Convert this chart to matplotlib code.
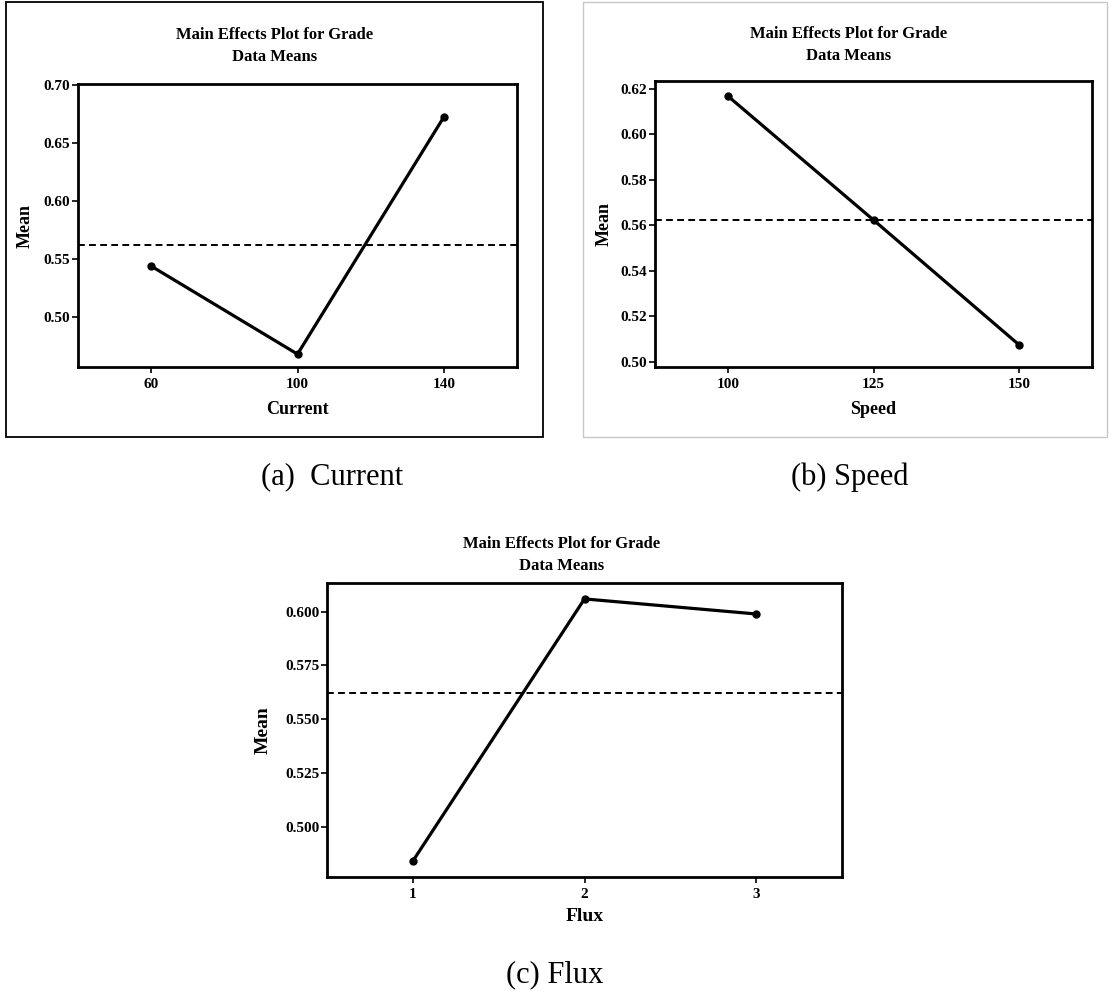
import matplotlib
matplotlib.use("Agg")
import matplotlib.pyplot as plt
from matplotlib.patches import Rectangle
from matplotlib.ticker import FormatStrFormatter

W, H = 1109, 991
plt.rcParams['font.family'] = ['Liberation Serif', 'DejaVu Serif']

# ---- data ----
current_levels = [60, 100, 140]
current_means = [0.5437, 0.4677, 0.6724]
speed_levels = [100, 125, 150]
speed_means = [0.6169, 0.5624, 0.5075]
flux_levels = [1, 2, 3]
flux_means = [0.4840, 0.6059, 0.5989]
grand_mean = 0.5623

title_lines = ["Main Effects Plot for Grade", "Data Means"]
captions = ["(a)  Current", "(b) Speed", "(c) Flux"]

fig = plt.figure(figsize=(W / 100, H / 100), dpi=100)


def rect(l, t, r, b):
    return [l / W, 1 - b / H, (r - l) / W, (b - t) / H]


def fx(x):
    return x / W


def fy(y):
    return 1 - y / H


# outer panel frames
fig.add_artist(Rectangle((fx(6), fy(437)), (543 - 6) / W, (437 - 2) / H,
                         transform=fig.transFigure, fill=False,
                         edgecolor='black', linewidth=1.3))
fig.add_artist(Rectangle((fx(583), fy(437)), (1107 - 583) / W, (437 - 2) / H,
                         transform=fig.transFigure, fill=False,
                         edgecolor='#c8c8c8', linewidth=1.0))


def panel(box, levels, means, xlim, ylim, yticks, fmt, xlabel, title_x,
          title_y, ylabel_right, xlabel_top, tick_fs=11, lab_fs=13):
    ax = fig.add_axes(rect(*box))
    ax.plot(levels, means, color='black', linewidth=2.3, marker='o',
            markersize=5, zorder=3)
    ax.axhline(grand_mean, color='black', linestyle=(0, (3.5, 2.2)),
               linewidth=1.4, zorder=2)
    ax.set_xlim(*xlim)
    ax.set_ylim(*ylim)
    ax.set_xticks(levels)
    ax.set_xticklabels([str(v) for v in levels])
    ax.set_yticks(yticks)
    ax.yaxis.set_major_formatter(FormatStrFormatter(fmt))
    for s in ax.spines.values():
        s.set_linewidth(2.0)
    ax.tick_params(direction='out', length=4, width=1.2, labelsize=tick_fs)
    ax.tick_params(axis='y', pad=1.5)
    ax.tick_params(axis='x', pad=4)
    for lbl in ax.get_xticklabels() + ax.get_yticklabels():
        lbl.set_fontweight('bold')
    ax.set_xlabel(xlabel, fontsize=lab_fs, fontweight='bold')
    ax.xaxis.set_label_coords(0.5, (box[3] - xlabel_top) / (box[3] - box[1]))
    ax.set_ylabel("Mean", fontsize=lab_fs, fontweight='bold')
    ax.yaxis.set_label_coords((ylabel_right - box[0]) / (box[2] - box[0]), 0.5)
    fig.text(fx(title_x), fy(title_y), title_lines[0], ha='center',
             va='center', fontsize=12, fontweight='bold')
    fig.text(fx(title_x), fy(title_y + 22), title_lines[1], ha='center',
             va='center', fontsize=12, fontweight='bold')
    return ax


panel((78, 84, 517, 367), current_levels, current_means, (40, 160),
      (0.4566, 0.7009), [0.50, 0.55, 0.60, 0.65, 0.70], '%.2f', 'Current',
      title_x=275, title_y=35, ylabel_right=34, xlabel_top=401)

panel((655, 81, 1092, 367), speed_levels, speed_means, (87.5, 162.5),
      (0.4978, 0.6235), [0.50, 0.52, 0.54, 0.56, 0.58, 0.60, 0.62], '%.2f',
      'Speed', title_x=849, title_y=34, ylabel_right=613, xlabel_top=401)

panel((327, 583, 842, 877), flux_levels, flux_means, (0.5, 3.5),
      (0.4766, 0.6133), [0.500, 0.525, 0.550, 0.575, 0.600], '%.3f', 'Flux',
      title_x=562, title_y=544, ylabel_right=272, xlabel_top=908, tick_fs=11,
      lab_fs=14)

fig.text(fx(332), fy(477), captions[0], ha='center', va='center', fontsize=22)
fig.text(fx(850), fy(477), captions[1], ha='center', va='center', fontsize=22)
fig.text(fx(555), fy(975), captions[2], ha='center', va='center', fontsize=22)

fig.savefig("out.png", dpi=100)
